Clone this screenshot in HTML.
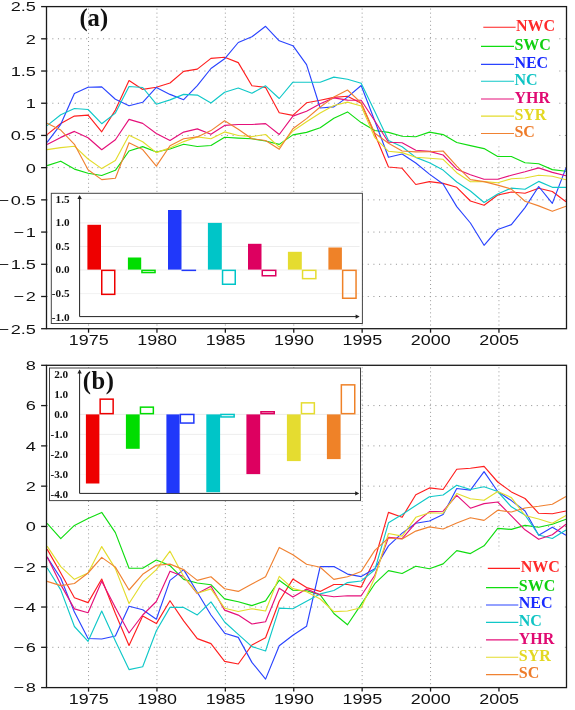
<!DOCTYPE html><html><head><meta charset="utf-8"><style>html,body{margin:0;padding:0;background:#fff;width:575px;height:710px;overflow:hidden}svg{display:block;will-change:transform}</style></head><body>
<svg width="575" height="710" viewBox="0 0 575 710">
<rect width="575" height="710" fill="#fff"/>
<defs><clipPath id="clipa"><rect x="46.5" y="6.6" width="520.0" height="322.09999999999997"/></clipPath><clipPath id="clipb"><rect x="46.5" y="365.3" width="520.0" height="322.3"/></clipPath></defs>
<g><line x1="46.5" y1="38.81" x2="566.5" y2="38.81" stroke="#999" stroke-width="1" stroke-dasharray="1.1 4.533" stroke-dashoffset="-0.15"/><line x1="46.5" y1="71.02" x2="566.5" y2="71.02" stroke="#999" stroke-width="1" stroke-dasharray="1.1 4.533" stroke-dashoffset="-0.15"/><line x1="46.5" y1="103.23" x2="566.5" y2="103.23" stroke="#999" stroke-width="1" stroke-dasharray="1.1 4.533" stroke-dashoffset="-0.15"/><line x1="46.5" y1="135.44" x2="566.5" y2="135.44" stroke="#999" stroke-width="1" stroke-dasharray="1.1 4.533" stroke-dashoffset="-0.15"/><line x1="46.5" y1="167.65" x2="566.5" y2="167.65" stroke="#999" stroke-width="1" stroke-dasharray="1.1 4.533" stroke-dashoffset="-0.15"/><line x1="46.5" y1="199.86" x2="566.5" y2="199.86" stroke="#999" stroke-width="1" stroke-dasharray="1.1 4.533" stroke-dashoffset="-0.15"/><line x1="46.5" y1="232.07" x2="566.5" y2="232.07" stroke="#999" stroke-width="1" stroke-dasharray="1.1 4.533" stroke-dashoffset="-0.15"/><line x1="46.5" y1="264.28" x2="566.5" y2="264.28" stroke="#999" stroke-width="1" stroke-dasharray="1.1 4.533" stroke-dashoffset="-0.15"/><line x1="46.5" y1="296.49" x2="566.5" y2="296.49" stroke="#999" stroke-width="1" stroke-dasharray="1.1 4.533" stroke-dashoffset="-0.15"/><line x1="88.55" y1="6.6" x2="88.55" y2="328.7" stroke="#999" stroke-width="1" stroke-dasharray="1 3.05" stroke-dashoffset="2.05"/><line x1="156.95" y1="6.6" x2="156.95" y2="328.7" stroke="#999" stroke-width="1" stroke-dasharray="1 3.05" stroke-dashoffset="2.05"/><line x1="225.35" y1="6.6" x2="225.35" y2="328.7" stroke="#999" stroke-width="1" stroke-dasharray="1 3.05" stroke-dashoffset="2.05"/><line x1="293.75" y1="6.6" x2="293.75" y2="328.7" stroke="#999" stroke-width="1" stroke-dasharray="1 3.05" stroke-dashoffset="2.05"/><line x1="362.15" y1="6.6" x2="362.15" y2="328.7" stroke="#999" stroke-width="1" stroke-dasharray="1 3.05" stroke-dashoffset="2.05"/><line x1="430.55" y1="6.6" x2="430.55" y2="328.7" stroke="#999" stroke-width="1" stroke-dasharray="1 3.05" stroke-dashoffset="2.05"/><line x1="498.95" y1="6.6" x2="498.95" y2="328.7" stroke="#999" stroke-width="1" stroke-dasharray="1 3.05" stroke-dashoffset="2.05"/></g>
<g clip-path="url(#clipa)" fill="none" stroke-width="1.15" stroke-linejoin="round">
<polyline points="47.10,134.60 60.76,123.50 74.41,116.10 88.06,115.10 101.72,131.80 115.38,110.10 129.03,80.60 142.69,89.40 156.34,87.20 170.00,83.00 183.65,71.40 197.30,69.10 210.96,58.40 224.61,57.30 238.27,62.60 251.92,85.80 265.58,87.40 279.24,112.70 292.89,115.40 306.55,102.80 320.20,100.20 333.86,97.40 347.51,96.20 361.17,103.30 374.82,134.30 388.48,167.00 402.13,168.30 415.79,184.50 429.44,181.60 443.10,183.40 456.75,187.30 470.41,201.00 484.06,205.30 497.71,195.00 511.37,192.00 525.02,193.20 538.68,188.20 552.33,191.50 565.99,201.70" stroke="#ff1f1f"/>
<polyline points="47.10,165.60 60.76,161.20 74.41,169.10 88.06,173.20 101.72,175.50 115.38,170.30 129.03,151.00 142.69,146.60 156.34,152.00 170.00,149.00 183.65,144.30 197.30,146.50 210.96,145.50 224.61,137.20 238.27,138.10 251.92,138.70 265.58,141.00 279.24,144.40 292.89,134.90 306.55,132.40 320.20,127.70 333.86,118.20 347.51,111.90 361.17,122.60 374.82,130.50 388.48,132.40 402.13,136.20 415.79,136.70 429.44,132.10 443.10,134.60 456.75,142.50 470.41,145.60 484.06,148.60 497.71,156.50 511.37,156.50 525.02,162.80 538.68,163.70 552.33,169.60 565.99,171.30" stroke="#10dd10"/>
<polyline points="47.10,142.30 60.76,124.30 74.41,93.50 88.06,87.30 101.72,86.90 115.38,99.30 129.03,105.80 142.69,102.30 156.34,87.40 170.00,94.40 183.65,99.70 197.30,85.60 210.96,68.50 224.61,58.80 238.27,42.50 251.92,36.80 265.58,26.30 279.24,40.80 292.89,45.70 306.55,64.70 320.20,108.00 333.86,106.90 347.51,97.10 361.17,85.50 374.82,121.00 388.48,157.30 402.13,154.00 415.79,163.00 429.44,174.10 443.10,184.00 456.75,206.60 470.41,223.00 484.06,245.30 497.71,229.50 511.37,224.60 525.02,207.60 538.68,186.50 552.33,203.40 565.99,167.90" stroke="#2a44ff"/>
<polyline points="47.10,125.60 60.76,114.70 74.41,108.50 88.06,109.50 101.72,123.70 115.38,113.10 129.03,86.50 142.69,87.50 156.34,104.20 170.00,99.90 183.65,94.40 197.30,95.10 210.96,103.00 224.61,92.20 238.27,88.00 251.92,93.20 265.58,85.80 279.24,98.50 292.89,82.20 306.55,82.20 320.20,82.20 333.86,77.10 347.51,79.30 361.17,83.30 374.82,111.40 388.48,140.50 402.13,146.70 415.79,157.40 429.44,162.80 443.10,170.10 456.75,182.00 470.41,191.00 484.06,202.50 497.71,194.00 511.37,188.10 525.02,189.30 538.68,181.40 552.33,187.30 565.99,187.30" stroke="#10c8c8"/>
<polyline points="47.10,144.50 60.76,137.40 74.41,131.40 88.06,137.80 101.72,149.70 115.38,139.70 129.03,119.40 142.69,123.40 156.34,133.50 170.00,140.50 183.65,132.10 197.30,128.90 210.96,134.30 224.61,125.40 238.27,124.50 251.92,124.50 265.58,123.60 279.24,134.50 292.89,116.10 306.55,111.20 320.20,103.80 333.86,97.90 347.51,100.10 361.17,100.30 374.82,121.00 388.48,142.30 402.13,142.70 415.79,150.20 429.44,151.40 443.10,155.00 456.75,169.20 470.41,174.70 484.06,179.20 497.71,179.20 511.37,175.30 525.02,171.80 538.68,167.90 552.33,172.40 565.99,175.80" stroke="#e5107a"/>
<polyline points="47.10,149.60 60.76,147.60 74.41,146.20 88.06,159.00 101.72,168.60 115.38,160.40 129.03,135.20 142.69,141.70 156.34,152.60 170.00,147.90 183.65,141.60 197.30,136.90 210.96,138.80 224.61,131.90 238.27,135.50 251.92,136.60 265.58,134.50 279.24,147.20 292.89,130.90 306.55,121.80 320.20,113.00 333.86,105.50 347.51,102.10 361.17,106.00 374.82,137.60 388.48,151.30 402.13,152.60 415.79,157.30 429.44,158.30 443.10,159.30 456.75,172.70 470.41,181.80 484.06,181.60 497.71,182.80 511.37,178.80 525.02,178.00 538.68,175.20 552.33,176.30 565.99,179.70" stroke="#e3dc2c"/>
<polyline points="47.10,123.20 60.76,130.10 74.41,144.30 88.06,169.80 101.72,179.60 115.38,178.20 129.03,142.70 142.69,149.60 156.34,166.10 170.00,145.80 183.65,138.80 197.30,136.90 210.96,130.60 224.61,120.70 238.27,129.20 251.92,138.70 265.58,140.50 279.24,149.30 292.89,128.80 306.55,118.60 320.20,107.00 333.86,97.10 347.51,90.00 361.17,102.80 374.82,133.20 388.48,143.30 402.13,151.00 415.79,151.90 429.44,151.80 443.10,151.00 456.75,166.20 470.41,179.60 484.06,181.60 497.71,185.10 511.37,189.10 525.02,201.20 538.68,205.90 552.33,211.30 565.99,206.20" stroke="#f08232"/>
</g>
<rect x="477.5" y="6.6" width="81.00" height="139.60" fill="#fff"/>
<line x1="483.3" y1="27.2" x2="515.6" y2="27.2" stroke="#ff1f1f" stroke-width="1.15"/>
<text x="516.0" y="30.50" style='font-family:"Liberation Serif",serif;font-weight:bold;font-size:16px' fill="#ff2a2a">NWC</text>
<line x1="481.0" y1="46.3" x2="514.0" y2="46.3" stroke="#10dd10" stroke-width="1.15"/>
<text x="514.4" y="49.60" style='font-family:"Liberation Serif",serif;font-weight:bold;font-size:16px' fill="#10d010">SWC</text>
<line x1="481.0" y1="64.3" x2="514.0" y2="64.3" stroke="#2a44ff" stroke-width="1.15"/>
<text x="514.4" y="67.60" style='font-family:"Liberation Serif",serif;font-weight:bold;font-size:16px' fill="#1a2cff">NEC</text>
<line x1="481.0" y1="81.2" x2="514.0" y2="81.2" stroke="#10c8c8" stroke-width="1.15"/>
<text x="514.4" y="84.50" style='font-family:"Liberation Serif",serif;font-weight:bold;font-size:16px' fill="#10c4c4">NC</text>
<line x1="481.0" y1="99.0" x2="514.0" y2="99.0" stroke="#e5107a" stroke-width="1.15"/>
<text x="514.4" y="102.80" style='font-family:"Liberation Serif",serif;font-weight:bold;font-size:16px' fill="#e00a72">YHR</text>
<line x1="481.0" y1="116.1" x2="514.0" y2="116.1" stroke="#e3dc2c" stroke-width="1.15"/>
<text x="514.4" y="120.30" style='font-family:"Liberation Serif",serif;font-weight:bold;font-size:16px' fill="#e3d822">SYR</text>
<line x1="481.0" y1="133.5" x2="514.0" y2="133.5" stroke="#f08232" stroke-width="1.15"/>
<text x="514.4" y="137.10" style='font-family:"Liberation Serif",serif;font-weight:bold;font-size:16px' fill="#ee7c2a">SC</text>
<rect x="51.3" y="193.3" width="311.10" height="130.20" fill="#fff" stroke="#444" stroke-width="1"/>
<line x1="79.6" y1="199.30" x2="359.6" y2="199.30" stroke="#f3f3f3" stroke-width="1"/>
<line x1="79.6" y1="222.90" x2="359.6" y2="222.90" stroke="#ededed" stroke-width="1"/>
<line x1="79.6" y1="246.50" x2="359.6" y2="246.50" stroke="#ededed" stroke-width="1"/>
<line x1="79.6" y1="270.00" x2="359.6" y2="270.00" stroke="#efefef" stroke-width="1"/>
<line x1="79.6" y1="293.60" x2="359.6" y2="293.60" stroke="#f2f2f2" stroke-width="1"/>
<text transform="translate(69.60,202.70) scale(1.1,1)" text-anchor="end" style='font-family:"Liberation Serif",serif;font-weight:bold;font-size:10.2px' fill="#111">1.5</text>
<text transform="translate(69.60,226.30) scale(1.1,1)" text-anchor="end" style='font-family:"Liberation Serif",serif;font-weight:bold;font-size:10.2px' fill="#111">1.0</text>
<text transform="translate(69.60,249.90) scale(1.1,1)" text-anchor="end" style='font-family:"Liberation Serif",serif;font-weight:bold;font-size:10.2px' fill="#111">0.5</text>
<text transform="translate(69.60,273.40) scale(1.1,1)" text-anchor="end" style='font-family:"Liberation Serif",serif;font-weight:bold;font-size:10.2px' fill="#111">0.0</text>
<text transform="translate(69.60,297.00) scale(1.1,1)" text-anchor="end" style='font-family:"Liberation Serif",serif;font-weight:bold;font-size:10.2px' fill="#111">-0.5</text>
<line x1="79.6" y1="316.6" x2="79.6" y2="196.0" stroke="#222" stroke-width="1"/>
<path d="M77.39999999999999,199.0 L79.6,195.0 L81.8,199.0 Z" fill="#222"/>
<line x1="79.6" y1="316.6" x2="358.6" y2="316.6" stroke="#222" stroke-width="1"/>
<path d="M355.6,314.40000000000003 L359.6,316.6 L355.6,318.8 Z" fill="#222"/>
<text transform="translate(69.60,320.60) scale(1.1,1)" text-anchor="end" style='font-family:"Liberation Serif",serif;font-weight:bold;font-size:10.2px' fill="#111">-1.0</text>
<rect x="87.4" y="224.8" width="13.60" height="44.80" fill="#ee0000"/>
<rect x="101.75" y="270.35" width="13.00" height="24.00" fill="none" stroke="#ee0000" stroke-width="1.5"/>
<rect x="127.9" y="257.5" width="13.30" height="12.10" fill="#00dd00"/>
<rect x="141.95" y="270.35" width="13.10" height="2.20" fill="none" stroke="#00dd00" stroke-width="1.5"/>
<rect x="168.0" y="210.0" width="13.50" height="59.60" fill="#2038fa"/>
<rect x="182.25" y="270.35" width="13.10" height="0.01" fill="none" stroke="#2038fa" stroke-width="1.5"/>
<rect x="207.9" y="222.9" width="13.90" height="46.70" fill="#00c5c8"/>
<rect x="222.55" y="270.35" width="12.70" height="13.90" fill="none" stroke="#00c5c8" stroke-width="1.5"/>
<rect x="248.0" y="243.8" width="13.50" height="25.80" fill="#dd0060"/>
<rect x="262.25" y="270.35" width="13.50" height="5.40" fill="none" stroke="#dd0060" stroke-width="1.5"/>
<rect x="287.9" y="251.8" width="13.90" height="17.80" fill="#e5dc30"/>
<rect x="302.55" y="270.35" width="13.30" height="8.30" fill="none" stroke="#e5dc30" stroke-width="1.5"/>
<rect x="328.4" y="247.5" width="13.50" height="22.10" fill="#ef8228"/>
<rect x="342.65" y="270.35" width="13.40" height="27.90" fill="none" stroke="#ef8228" stroke-width="1.5"/>
<text x="79.4" y="26.4" style='font-family:"Liberation Serif",serif;font-weight:bold;font-size:24.6px' fill="#111">(a)</text>
<rect x="46.5" y="6.6" width="520.00" height="322.10" fill="none" stroke="#1a1a1a" stroke-width="1.3"/>
<line x1="41.10" y1="6.60" x2="46.5" y2="6.60" stroke="#1a1a1a" stroke-width="1.3"/>
<line x1="41.10" y1="38.81" x2="46.5" y2="38.81" stroke="#1a1a1a" stroke-width="1.3"/>
<line x1="41.10" y1="71.02" x2="46.5" y2="71.02" stroke="#1a1a1a" stroke-width="1.3"/>
<line x1="41.10" y1="103.23" x2="46.5" y2="103.23" stroke="#1a1a1a" stroke-width="1.3"/>
<line x1="41.10" y1="135.44" x2="46.5" y2="135.44" stroke="#1a1a1a" stroke-width="1.3"/>
<line x1="41.10" y1="167.65" x2="46.5" y2="167.65" stroke="#1a1a1a" stroke-width="1.3"/>
<line x1="41.10" y1="199.86" x2="46.5" y2="199.86" stroke="#1a1a1a" stroke-width="1.3"/>
<line x1="41.10" y1="232.07" x2="46.5" y2="232.07" stroke="#1a1a1a" stroke-width="1.3"/>
<line x1="41.10" y1="264.28" x2="46.5" y2="264.28" stroke="#1a1a1a" stroke-width="1.3"/>
<line x1="41.10" y1="296.49" x2="46.5" y2="296.49" stroke="#1a1a1a" stroke-width="1.3"/>
<line x1="41.10" y1="328.70" x2="46.5" y2="328.70" stroke="#1a1a1a" stroke-width="1.3"/>
<line x1="88.55" y1="328.7" x2="88.55" y2="332.70" stroke="#1a1a1a" stroke-width="1.3"/>
<line x1="156.95" y1="328.7" x2="156.95" y2="332.70" stroke="#1a1a1a" stroke-width="1.3"/>
<line x1="225.35" y1="328.7" x2="225.35" y2="332.70" stroke="#1a1a1a" stroke-width="1.3"/>
<line x1="293.75" y1="328.7" x2="293.75" y2="332.70" stroke="#1a1a1a" stroke-width="1.3"/>
<line x1="362.15" y1="328.7" x2="362.15" y2="332.70" stroke="#1a1a1a" stroke-width="1.3"/>
<line x1="430.55" y1="328.7" x2="430.55" y2="332.70" stroke="#1a1a1a" stroke-width="1.3"/>
<line x1="498.95" y1="328.7" x2="498.95" y2="332.70" stroke="#1a1a1a" stroke-width="1.3"/>
<text transform="translate(35.90,11.45) scale(1.41,1)" text-anchor="end" style='font-family:"Liberation Sans",sans-serif;font-size:12.9px' fill="#111">2.5</text>
<text transform="translate(35.90,43.66) scale(1.41,1)" text-anchor="end" style='font-family:"Liberation Sans",sans-serif;font-size:12.9px' fill="#111">2</text>
<text transform="translate(35.90,75.87) scale(1.41,1)" text-anchor="end" style='font-family:"Liberation Sans",sans-serif;font-size:12.9px' fill="#111">1.5</text>
<text transform="translate(35.90,108.08) scale(1.41,1)" text-anchor="end" style='font-family:"Liberation Sans",sans-serif;font-size:12.9px' fill="#111">1</text>
<text transform="translate(35.90,140.29) scale(1.41,1)" text-anchor="end" style='font-family:"Liberation Sans",sans-serif;font-size:12.9px' fill="#111">0.5</text>
<text transform="translate(35.90,172.50) scale(1.41,1)" text-anchor="end" style='font-family:"Liberation Sans",sans-serif;font-size:12.9px' fill="#111">0</text>
<text transform="translate(35.90,204.71) scale(1.41,1)" text-anchor="end" style='font-family:"Liberation Sans",sans-serif;font-size:12.9px' fill="#111">−<tspan dx="1.1">0.5</tspan></text>
<text transform="translate(35.90,236.92) scale(1.41,1)" text-anchor="end" style='font-family:"Liberation Sans",sans-serif;font-size:12.9px' fill="#111">−<tspan dx="1.1">1</tspan></text>
<text transform="translate(35.90,269.13) scale(1.41,1)" text-anchor="end" style='font-family:"Liberation Sans",sans-serif;font-size:12.9px' fill="#111">−<tspan dx="1.1">1.5</tspan></text>
<text transform="translate(35.90,301.34) scale(1.41,1)" text-anchor="end" style='font-family:"Liberation Sans",sans-serif;font-size:12.9px' fill="#111">−<tspan dx="1.1">2</tspan></text>
<text transform="translate(35.90,333.55) scale(1.41,1)" text-anchor="end" style='font-family:"Liberation Sans",sans-serif;font-size:12.9px' fill="#111">−<tspan dx="1.1">2.5</tspan></text>
<text transform="translate(88.75,344.60) scale(1.28,1)" text-anchor="middle" style='font-family:"Liberation Sans",sans-serif;font-size:14px' fill="#111">1975</text>
<text transform="translate(157.15,344.60) scale(1.28,1)" text-anchor="middle" style='font-family:"Liberation Sans",sans-serif;font-size:14px' fill="#111">1980</text>
<text transform="translate(225.55,344.60) scale(1.28,1)" text-anchor="middle" style='font-family:"Liberation Sans",sans-serif;font-size:14px' fill="#111">1985</text>
<text transform="translate(293.95,344.60) scale(1.28,1)" text-anchor="middle" style='font-family:"Liberation Sans",sans-serif;font-size:14px' fill="#111">1990</text>
<text transform="translate(362.35,344.60) scale(1.28,1)" text-anchor="middle" style='font-family:"Liberation Sans",sans-serif;font-size:14px' fill="#111">1995</text>
<text transform="translate(430.75,344.60) scale(1.28,1)" text-anchor="middle" style='font-family:"Liberation Sans",sans-serif;font-size:14px' fill="#111">2000</text>
<text transform="translate(499.15,344.60) scale(1.28,1)" text-anchor="middle" style='font-family:"Liberation Sans",sans-serif;font-size:14px' fill="#111">2005</text>
<g><line x1="46.5" y1="405.59" x2="566.5" y2="405.59" stroke="#999" stroke-width="1" stroke-dasharray="1.1 4.533" stroke-dashoffset="-0.15"/><line x1="46.5" y1="445.88" x2="566.5" y2="445.88" stroke="#999" stroke-width="1" stroke-dasharray="1.1 4.533" stroke-dashoffset="-0.15"/><line x1="46.5" y1="486.16" x2="566.5" y2="486.16" stroke="#999" stroke-width="1" stroke-dasharray="1.1 4.533" stroke-dashoffset="-0.15"/><line x1="46.5" y1="526.45" x2="566.5" y2="526.45" stroke="#999" stroke-width="1" stroke-dasharray="1.1 4.533" stroke-dashoffset="-0.15"/><line x1="46.5" y1="566.74" x2="566.5" y2="566.74" stroke="#999" stroke-width="1" stroke-dasharray="1.1 4.533" stroke-dashoffset="-0.15"/><line x1="46.5" y1="607.03" x2="566.5" y2="607.03" stroke="#999" stroke-width="1" stroke-dasharray="1.1 4.533" stroke-dashoffset="-0.15"/><line x1="46.5" y1="647.31" x2="566.5" y2="647.31" stroke="#999" stroke-width="1" stroke-dasharray="1.1 4.533" stroke-dashoffset="-0.15"/><line x1="88.55" y1="365.3" x2="88.55" y2="687.6" stroke="#999" stroke-width="1" stroke-dasharray="1 3.05" stroke-dashoffset="2.05"/><line x1="156.95" y1="365.3" x2="156.95" y2="687.6" stroke="#999" stroke-width="1" stroke-dasharray="1 3.05" stroke-dashoffset="2.05"/><line x1="225.35" y1="365.3" x2="225.35" y2="687.6" stroke="#999" stroke-width="1" stroke-dasharray="1 3.05" stroke-dashoffset="2.05"/><line x1="293.75" y1="365.3" x2="293.75" y2="687.6" stroke="#999" stroke-width="1" stroke-dasharray="1 3.05" stroke-dashoffset="2.05"/><line x1="362.15" y1="365.3" x2="362.15" y2="687.6" stroke="#999" stroke-width="1" stroke-dasharray="1 3.05" stroke-dashoffset="2.05"/><line x1="430.55" y1="365.3" x2="430.55" y2="687.6" stroke="#999" stroke-width="1" stroke-dasharray="1 3.05" stroke-dashoffset="2.05"/><line x1="498.95" y1="365.3" x2="498.95" y2="687.6" stroke="#999" stroke-width="1" stroke-dasharray="1 3.05" stroke-dashoffset="2.05"/></g>
<g clip-path="url(#clipb)" fill="none" stroke-width="1.15" stroke-linejoin="round">
<polyline points="47.10,549.10 60.76,573.00 74.41,597.70 88.06,602.60 101.72,579.00 115.38,613.50 129.03,645.50 142.69,616.00 156.34,623.60 170.00,600.70 183.65,620.90 197.30,638.60 210.96,643.60 224.61,661.40 238.27,664.00 251.92,645.00 265.58,637.70 279.24,601.30 292.89,579.10 306.55,587.60 320.20,591.40 333.86,584.50 347.51,584.50 361.17,587.10 374.82,559.50 388.48,512.40 402.13,517.30 415.79,494.70 429.44,487.90 443.10,489.50 456.75,469.20 470.41,468.20 484.06,466.40 497.71,482.00 511.37,491.90 525.02,498.50 538.68,513.30 552.33,513.80 565.99,511.00" stroke="#ff1f1f"/>
<polyline points="47.10,523.30 60.76,538.70 74.41,525.40 88.06,518.60 101.72,512.40 115.38,532.60 129.03,568.20 142.69,568.20 156.34,560.00 170.00,565.60 183.65,579.40 197.30,583.00 210.96,584.70 224.61,598.90 238.27,601.70 251.92,605.60 265.58,600.90 279.24,580.20 292.89,590.30 306.55,590.80 320.20,594.90 333.86,613.50 347.51,624.80 361.17,604.40 374.82,583.70 388.48,570.60 402.13,573.50 415.79,566.20 429.44,568.80 443.10,563.90 456.75,550.60 470.41,553.60 484.06,545.80 497.71,528.40 511.37,529.40 525.02,525.40 538.68,527.20 552.33,524.20 565.99,519.30" stroke="#10dd10"/>
<polyline points="47.10,557.10 60.76,578.20 74.41,612.10 88.06,638.50 101.72,639.00 115.38,636.00 129.03,606.20 142.69,609.80 156.34,619.20 170.00,580.40 183.65,569.60 197.30,592.30 210.96,615.00 224.61,633.20 238.27,637.40 251.92,662.40 265.58,679.10 279.24,645.70 292.89,635.20 306.55,626.30 320.20,566.50 333.86,566.60 347.51,574.10 361.17,576.60 374.82,568.70 388.48,545.90 402.13,533.10 415.79,523.20 429.44,521.00 443.10,514.60 456.75,488.50 470.41,490.10 484.06,471.60 497.71,491.50 511.37,500.60 525.02,511.00 538.68,535.30 552.33,527.20 565.99,535.30" stroke="#2a44ff"/>
<polyline points="47.10,567.70 60.76,589.90 74.41,626.50 88.06,641.30 101.72,611.00 115.38,641.00 129.03,669.60 142.69,666.80 156.34,630.80 170.00,607.40 183.65,607.40 197.30,614.90 210.96,601.90 224.61,622.00 238.27,634.40 251.92,646.60 265.58,651.00 279.24,608.10 292.89,608.70 306.55,601.30 320.20,593.90 333.86,590.50 347.51,582.60 361.17,581.00 374.82,569.80 388.48,522.80 402.13,514.40 415.79,505.50 429.44,496.80 443.10,495.00 456.75,485.20 470.41,489.50 484.06,486.70 497.71,491.50 511.37,506.80 525.02,515.00 538.68,535.00 552.33,538.50 565.99,530.10" stroke="#10c8c8"/>
<polyline points="47.10,556.70 60.76,584.60 74.41,608.90 88.06,612.70 101.72,581.20 115.38,607.50 129.03,633.00 142.69,615.00 156.34,601.50 170.00,571.20 183.65,576.50 197.30,593.60 210.96,586.20 224.61,610.10 238.27,615.10 251.92,624.00 265.58,621.70 279.24,588.20 292.89,597.10 306.55,589.10 320.20,594.70 333.86,596.80 347.51,595.80 361.17,595.80 374.82,575.20 388.48,537.40 402.13,538.60 415.79,522.80 429.44,511.60 443.10,511.20 456.75,495.40 470.41,508.20 484.06,503.60 497.71,502.00 511.37,515.90 525.02,529.80 538.68,539.30 552.33,534.70 565.99,524.20" stroke="#e5107a"/>
<polyline points="47.10,546.10 60.76,566.60 74.41,579.30 88.06,573.00 101.72,546.60 115.38,568.60 129.03,603.50 142.69,582.20 156.34,569.70 170.00,551.20 183.65,576.50 197.30,593.20 210.96,588.90 224.61,608.20 238.27,611.50 251.92,608.80 265.58,611.00 279.24,576.40 292.89,588.60 306.55,591.80 320.20,599.00 333.86,611.60 347.51,611.00 361.17,607.80 374.82,577.50 388.48,533.50 402.13,536.10 415.79,517.30 429.44,512.80 443.10,513.20 456.75,493.50 470.41,498.80 484.06,500.30 497.71,491.50 511.37,497.60 525.02,515.50 538.68,519.00 552.33,523.20 565.99,515.50" stroke="#e3dc2c"/>
<polyline points="47.10,581.40 60.76,585.60 74.41,583.50 88.06,573.00 101.72,557.40 115.38,567.10 129.03,590.00 142.69,574.30 156.34,565.30 170.00,564.10 183.65,569.60 197.30,580.40 210.96,576.80 224.61,588.80 238.27,591.40 251.92,583.90 265.58,576.80 279.24,547.40 292.89,554.80 306.55,564.30 320.20,567.20 333.86,579.40 347.51,576.70 361.17,571.50 374.82,550.40 388.48,538.00 402.13,539.00 415.79,531.10 429.44,526.90 443.10,529.00 456.75,523.00 470.41,517.70 484.06,520.40 497.71,510.30 511.37,512.00 525.02,508.00 538.68,506.30 552.33,504.20 565.99,496.40" stroke="#f08232"/>
</g>
<rect x="482.5" y="549.6" width="81.30" height="138.00" fill="#fff"/>
<line x1="487.8" y1="568.3" x2="520.0" y2="568.3" stroke="#ff1f1f" stroke-width="1.15"/>
<text x="520.8" y="571.60" style='font-family:"Liberation Serif",serif;font-weight:bold;font-size:16px' fill="#ff2a2a">NWC</text>
<line x1="486.0" y1="587.6" x2="518.3" y2="587.6" stroke="#10dd10" stroke-width="1.15"/>
<text x="518.8" y="590.90" style='font-family:"Liberation Serif",serif;font-weight:bold;font-size:16px' fill="#10d010">SWC</text>
<line x1="486.0" y1="605.0" x2="518.3" y2="605.0" stroke="#2a44ff" stroke-width="1.15"/>
<text x="518.8" y="608.30" style='font-family:"Liberation Serif",serif;font-weight:bold;font-size:16px' fill="#1a2cff">NEC</text>
<line x1="486.0" y1="622.4" x2="518.3" y2="622.4" stroke="#10c8c8" stroke-width="1.15"/>
<text x="518.8" y="625.70" style='font-family:"Liberation Serif",serif;font-weight:bold;font-size:16px' fill="#10c4c4">NC</text>
<line x1="486.0" y1="639.8" x2="518.3" y2="639.8" stroke="#e5107a" stroke-width="1.15"/>
<text x="518.8" y="643.60" style='font-family:"Liberation Serif",serif;font-weight:bold;font-size:16px' fill="#e00a72">YHR</text>
<line x1="486.0" y1="657.2" x2="518.3" y2="657.2" stroke="#e3dc2c" stroke-width="1.15"/>
<text x="518.8" y="661.40" style='font-family:"Liberation Serif",serif;font-weight:bold;font-size:16px' fill="#e3d822">SYR</text>
<line x1="486.0" y1="674.6" x2="518.3" y2="674.6" stroke="#f08232" stroke-width="1.15"/>
<text x="518.8" y="678.20" style='font-family:"Liberation Serif",serif;font-weight:bold;font-size:16px' fill="#ee7c2a">SC</text>
<rect x="49.5" y="368.0" width="311.00" height="132.60" fill="#fff" stroke="#444" stroke-width="1"/>
<line x1="79.6" y1="414.40" x2="359.2" y2="414.40" stroke="#ebebeb" stroke-width="1"/>
<line x1="79.6" y1="434.40" x2="359.2" y2="434.40" stroke="#ededed" stroke-width="1"/>
<line x1="79.6" y1="454.30" x2="359.2" y2="454.30" stroke="#f7f7f7" stroke-width="1"/>
<line x1="79.6" y1="474.40" x2="359.2" y2="474.40" stroke="#f8f8f8" stroke-width="1"/>
<text transform="translate(68.20,378.00) scale(1.1,1)" text-anchor="end" style='font-family:"Liberation Serif",serif;font-weight:bold;font-size:10.2px' fill="#111">2.0</text>
<text transform="translate(68.20,398.00) scale(1.1,1)" text-anchor="end" style='font-family:"Liberation Serif",serif;font-weight:bold;font-size:10.2px' fill="#111">1.0</text>
<text transform="translate(68.20,417.80) scale(1.1,1)" text-anchor="end" style='font-family:"Liberation Serif",serif;font-weight:bold;font-size:10.2px' fill="#111">0.0</text>
<text transform="translate(68.20,437.80) scale(1.1,1)" text-anchor="end" style='font-family:"Liberation Serif",serif;font-weight:bold;font-size:10.2px' fill="#111">-1.0</text>
<text transform="translate(68.20,457.70) scale(1.1,1)" text-anchor="end" style='font-family:"Liberation Serif",serif;font-weight:bold;font-size:10.2px' fill="#111">-2.0</text>
<text transform="translate(68.20,477.80) scale(1.1,1)" text-anchor="end" style='font-family:"Liberation Serif",serif;font-weight:bold;font-size:10.2px' fill="#111">-3.0</text>
<line x1="79.6" y1="493.4" x2="79.6" y2="370.6" stroke="#222" stroke-width="1"/>
<path d="M77.39999999999999,373.6 L79.6,369.6 L81.8,373.6 Z" fill="#222"/>
<line x1="79.6" y1="493.4" x2="358.2" y2="493.4" stroke="#222" stroke-width="1"/>
<path d="M355.2,491.2 L359.2,493.4 L355.2,495.59999999999997 Z" fill="#222"/>
<text transform="translate(68.20,498.00) scale(1.1,1)" text-anchor="end" style='font-family:"Liberation Serif",serif;font-weight:bold;font-size:10.2px' fill="#111">-4.0</text>
<rect x="85.9" y="414.4" width="13.50" height="69.10" fill="#ee0000"/>
<rect x="100.15" y="399.15" width="13.00" height="14.50" fill="none" stroke="#ee0000" stroke-width="1.5"/>
<rect x="125.9" y="414.4" width="13.80" height="34.40" fill="#00dd00"/>
<rect x="140.45" y="407.15" width="12.90" height="6.50" fill="none" stroke="#00dd00" stroke-width="1.5"/>
<rect x="166.4" y="414.4" width="13.20" height="78.80" fill="#2038fa"/>
<rect x="180.35" y="414.45" width="13.50" height="8.60" fill="none" stroke="#2038fa" stroke-width="1.5"/>
<rect x="206.3" y="414.4" width="13.80" height="77.80" fill="#00c5c8"/>
<rect x="220.85" y="414.45" width="13.30" height="2.50" fill="none" stroke="#00c5c8" stroke-width="1.5"/>
<rect x="246.4" y="414.4" width="13.80" height="59.70" fill="#dd0060"/>
<rect x="260.95" y="411.75" width="13.30" height="1.90" fill="none" stroke="#dd0060" stroke-width="1.5"/>
<rect x="286.9" y="414.4" width="13.80" height="46.70" fill="#e5dc30"/>
<rect x="301.45" y="402.85" width="12.90" height="10.80" fill="none" stroke="#e5dc30" stroke-width="1.5"/>
<rect x="326.9" y="414.4" width="13.70" height="44.70" fill="#ef8228"/>
<rect x="341.35" y="384.85" width="13.40" height="28.80" fill="none" stroke="#ef8228" stroke-width="1.5"/>
<text x="82.8" y="388.7" style='font-family:"Liberation Serif",serif;font-weight:bold;font-size:24.6px;letter-spacing:0.5px' fill="#111">(b)</text>
<rect x="46.5" y="365.3" width="520.00" height="322.30" fill="none" stroke="#1a1a1a" stroke-width="1.3"/>
<line x1="41.10" y1="365.30" x2="46.5" y2="365.30" stroke="#1a1a1a" stroke-width="1.3"/>
<line x1="41.10" y1="405.59" x2="46.5" y2="405.59" stroke="#1a1a1a" stroke-width="1.3"/>
<line x1="41.10" y1="445.88" x2="46.5" y2="445.88" stroke="#1a1a1a" stroke-width="1.3"/>
<line x1="41.10" y1="486.16" x2="46.5" y2="486.16" stroke="#1a1a1a" stroke-width="1.3"/>
<line x1="41.10" y1="526.45" x2="46.5" y2="526.45" stroke="#1a1a1a" stroke-width="1.3"/>
<line x1="41.10" y1="566.74" x2="46.5" y2="566.74" stroke="#1a1a1a" stroke-width="1.3"/>
<line x1="41.10" y1="607.03" x2="46.5" y2="607.03" stroke="#1a1a1a" stroke-width="1.3"/>
<line x1="41.10" y1="647.31" x2="46.5" y2="647.31" stroke="#1a1a1a" stroke-width="1.3"/>
<line x1="41.10" y1="687.60" x2="46.5" y2="687.60" stroke="#1a1a1a" stroke-width="1.3"/>
<line x1="88.55" y1="687.6" x2="88.55" y2="691.60" stroke="#1a1a1a" stroke-width="1.3"/>
<line x1="156.95" y1="687.6" x2="156.95" y2="691.60" stroke="#1a1a1a" stroke-width="1.3"/>
<line x1="225.35" y1="687.6" x2="225.35" y2="691.60" stroke="#1a1a1a" stroke-width="1.3"/>
<line x1="293.75" y1="687.6" x2="293.75" y2="691.60" stroke="#1a1a1a" stroke-width="1.3"/>
<line x1="362.15" y1="687.6" x2="362.15" y2="691.60" stroke="#1a1a1a" stroke-width="1.3"/>
<line x1="430.55" y1="687.6" x2="430.55" y2="691.60" stroke="#1a1a1a" stroke-width="1.3"/>
<line x1="498.95" y1="687.6" x2="498.95" y2="691.60" stroke="#1a1a1a" stroke-width="1.3"/>
<text transform="translate(35.90,370.15) scale(1.41,1)" text-anchor="end" style='font-family:"Liberation Sans",sans-serif;font-size:12.9px' fill="#111">8</text>
<text transform="translate(35.90,410.44) scale(1.41,1)" text-anchor="end" style='font-family:"Liberation Sans",sans-serif;font-size:12.9px' fill="#111">6</text>
<text transform="translate(35.90,450.73) scale(1.41,1)" text-anchor="end" style='font-family:"Liberation Sans",sans-serif;font-size:12.9px' fill="#111">4</text>
<text transform="translate(35.90,491.01) scale(1.41,1)" text-anchor="end" style='font-family:"Liberation Sans",sans-serif;font-size:12.9px' fill="#111">2</text>
<text transform="translate(35.90,531.30) scale(1.41,1)" text-anchor="end" style='font-family:"Liberation Sans",sans-serif;font-size:12.9px' fill="#111">0</text>
<text transform="translate(35.90,571.59) scale(1.41,1)" text-anchor="end" style='font-family:"Liberation Sans",sans-serif;font-size:12.9px' fill="#111">−<tspan dx="1.1">2</tspan></text>
<text transform="translate(35.90,611.88) scale(1.41,1)" text-anchor="end" style='font-family:"Liberation Sans",sans-serif;font-size:12.9px' fill="#111">−<tspan dx="1.1">4</tspan></text>
<text transform="translate(35.90,652.16) scale(1.41,1)" text-anchor="end" style='font-family:"Liberation Sans",sans-serif;font-size:12.9px' fill="#111">−<tspan dx="1.1">6</tspan></text>
<text transform="translate(35.90,692.45) scale(1.41,1)" text-anchor="end" style='font-family:"Liberation Sans",sans-serif;font-size:12.9px' fill="#111">−<tspan dx="1.1">8</tspan></text>
<text transform="translate(88.75,703.50) scale(1.28,1)" text-anchor="middle" style='font-family:"Liberation Sans",sans-serif;font-size:14px' fill="#111">1975</text>
<text transform="translate(157.15,703.50) scale(1.28,1)" text-anchor="middle" style='font-family:"Liberation Sans",sans-serif;font-size:14px' fill="#111">1980</text>
<text transform="translate(225.55,703.50) scale(1.28,1)" text-anchor="middle" style='font-family:"Liberation Sans",sans-serif;font-size:14px' fill="#111">1985</text>
<text transform="translate(293.95,703.50) scale(1.28,1)" text-anchor="middle" style='font-family:"Liberation Sans",sans-serif;font-size:14px' fill="#111">1990</text>
<text transform="translate(362.35,703.50) scale(1.28,1)" text-anchor="middle" style='font-family:"Liberation Sans",sans-serif;font-size:14px' fill="#111">1995</text>
<text transform="translate(430.75,703.50) scale(1.28,1)" text-anchor="middle" style='font-family:"Liberation Sans",sans-serif;font-size:14px' fill="#111">2000</text>
<text transform="translate(499.15,703.50) scale(1.28,1)" text-anchor="middle" style='font-family:"Liberation Sans",sans-serif;font-size:14px' fill="#111">2005</text>
</svg></body></html>
